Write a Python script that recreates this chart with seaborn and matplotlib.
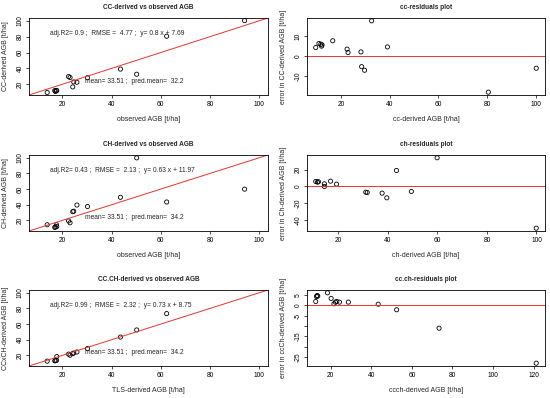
import numpy as np
import pandas as pd
import seaborn as sns
import matplotlib.pyplot as plt

# observed AGB (x of the left panels)
observed = [13.8, 16.9, 17.1, 17.6, 17.7, 22.5, 23.1, 24.2, 24.6, 25.9, 30.2, 43.6, 50.2, 62.4, 94.1]

# model derived AGB, same order as observed
cc_pred = [9.6, 12.0, 10.9, 11.7, 12.2, 29.7, 28.5, 16.6, 22.9, 22.5, 28.2, 39.1, 32.6, 80.6, 100.3]
ch_pred = [14.4, 10.9, 11.6, 14.4, 12.0, 19.3, 16.9, 31.1, 31.7, 39.6, 37.7, 49.5, 99.9, 43.5, 59.9]
ccch_pred = [12.6, 13.0, 13.3, 13.6, 18.4, 21.6, 20.2, 22.3, 23.0, 24.3, 28.7, 43.4, 52.5, 73.4, 121.3]

# residuals
cc_err = [4.2, 4.9, 6.2, 5.9, 5.5, -7.2, -5.4, 7.6, 1.7, 3.4, 2.0, 4.5, 17.6, -18.2, -6.2]
ch_err = [0.0, 6.0, 5.2, 3.2, 5.7, 2.8, 6.4, -6.8, -7.2, -13.6, -8.0, -6.0, -50.0, 19.2, 34.4]
ccch_err = [1.9, 4.3, 4.8, 4.5, 6.1, 0.8, 3.4, 1.6, 1.9, 1.6, 1.6, 0.6, -2.1, -11.0, -27.9]

fit_text = ["adj.R2= 0.9 ;  RMSE =  4.77 ;  y= 0.8 x + 7.69",
            "adj.R2= 0.43 ;  RMSE =  2.13 ;  y= 0.63 x + 11.97",
            "adj.R2= 0.99 ;  RMSE =  2.32 ;  y= 0.73 x + 8.75"]
mean_text = ["mean= 33.51 ;  pred.mean=  32.2",
             "mean= 33.51 ;  pred.mean=  34.2",
             "mean= 33.51 ;  pred.mean=  34.2"]

left_titles = ["CC-derived vs observed AGB", "CH-derived vs observed AGB", "CC.CH-derived vs observed AGB"]
left_ylabels = ["CC-derived AGB [t/ha]", "CH-derived AGB [t/ha]", "CCxCH-derived AGB [t/ha]"]
left_xlabels = ["observed AGB [t/ha]", "observed AGB [t/ha]", "TLS-derived AGB [t/ha]"]
right_titles = ["cc-residuals plot", "ch-residuals plot", "cc.ch-residuals plot"]
right_ylabels = ["error in CC-derived AGB [t/ha]", "error in Ch-derived AGB [t/ha]", "error in ccCh-derived AGB [t/ha]"]
right_xlabels = ["cc-derived AGB [t/ha]", "ch-derived AGB [t/ha]", "ccch-derived AGB [t/ha]"]

res_yticks = [[-10, 0, 10], [-40, -20, 0, 20], [-25, -20, -15, -10, -5, 0, 5]]
res_ylabels = [["-10", "0", "10"], ["-40", "-20", "0", "20"], ["-25", "", "-15", "", "-5", "0", "5"]]

sns.set_theme(style="ticks")
plt.rcParams['font.family'] = ['Liberation Sans', 'DejaVu Sans']

fig = plt.figure(figsize=(5.5, 3.98), dpi=100)

rows_bottom = [0.7613, 0.4196, 0.0804]
rows_height = [0.1935, 0.191, 0.191]

preds = [cc_pred, ch_pred, ccch_pred]
errs = [cc_err, ch_err, ccch_err]

def style_ax(ax, title, xlabel, ylabel):
    for s in ax.spines.values():
        s.set_visible(True)
        s.set_linewidth(0.6)
        s.set_color("black")
    ax.tick_params(direction="out", length=2.5, width=0.5, labelsize=4.8, pad=1.5, colors="black")
    for lab in ax.get_yticklabels():
        lab.set_rotation(90)
        lab.set_va("center")
    ax.set_title(title, fontsize=4.7, fontweight="bold", pad=6.5)
    ax.set_xlabel(xlabel, fontsize=5, labelpad=6)
    ax.set_ylabel(ylabel, fontsize=5, labelpad=5)

for i in range(3):
    # left: derived vs observed
    ax = fig.add_axes([0.0527, rows_bottom[i], 0.4345, rows_height[i]])
    df = pd.DataFrame({"obs": observed, "pred": preds[i]})
    sns.scatterplot(data=df, x="obs", y="pred", ax=ax, marker="o", s=9,
                    facecolor="none", edgecolor="black", linewidth=0.6)
    ax.axline((0, 0), slope=1, color="#e8332f", lw=0.7)
    ax.set_xlim(6.4, 103.6)
    ax.set_ylim(6.4, 103.6)
    ax.set_xticks([20, 40, 60, 80, 100])
    ax.set_yticks([20, 40, 60, 80, 100])
    ax.text(15, 84, fit_text[i], fontsize=4.8, va="center", ha="left")
    ax.text(29, 24, mean_text[i], fontsize=4.8, va="center", ha="left")
    style_ax(ax, left_titles[i], left_xlabels[i], left_ylabels[i])

    # right: residuals
    ax = fig.add_axes([0.558, rows_bottom[i], 0.433, rows_height[i]])
    df = pd.DataFrame({"pred": preds[i], "err": errs[i]})
    sns.scatterplot(data=df, x="pred", y="err", ax=ax, marker="o", s=9,
                    facecolor="none", edgecolor="black", linewidth=0.6)
    ax.margins(0.04)
    ax.axhline(0, color="#e8332f", lw=0.7)
    ax.set_yticks(res_yticks[i])
    ax.set_yticklabels(res_ylabels[i])
    xt = [20, 40, 60, 80, 100] if i < 2 else [20, 40, 60, 80, 100, 120]
    ax.set_xticks(xt)
    style_ax(ax, right_titles[i], right_xlabels[i], right_ylabels[i])

fig.savefig("out.png", dpi=100, facecolor="white")
